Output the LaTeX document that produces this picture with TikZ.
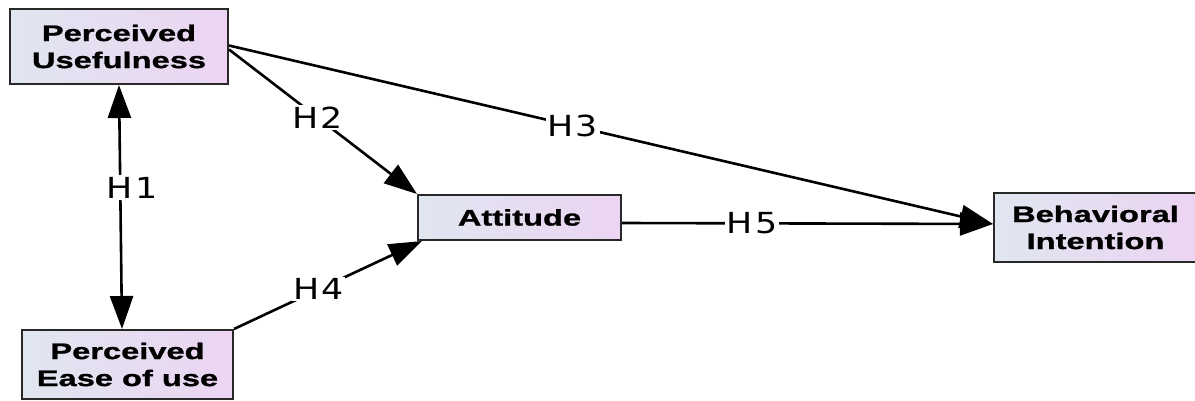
\documentclass[tikz,border=0pt]{standalone}
\usepackage{fontspec}
\usetikzlibrary{arrows.meta}
\newfontfamily\boxfont[FakeStretch=1.45,BoldFeatures={FakeBold=1.2}]{Liberation Sans}
\newfontfamily\hypfont[FakeStretch=1.2,LetterSpace=8]{DejaVu Sans}
\definecolor{boxleft}{RGB}{224,230,240}
\definecolor{boxright}{RGB}{236,212,242}
\definecolor{boxline}{RGB}{40,40,40}
\tikzset{
  construct/.style={draw=boxline, line width=2pt, left color=boxleft, right color=boxright,
    align=center, inner sep=0pt, font=\boxfont\bfseries\fontsize{22.5}{27}\selectfont},
  path/.style={line width=2.6pt, -{Triangle[length=33pt,width=23pt]}},
  hyp/.style={fill=white, inner sep=1.5pt, font=\hypfont\fontsize{29}{29}\selectfont}
}
\begin{document}
\begin{tikzpicture}[x=1pt,y=-1pt]
\useasboundingbox[fill=white] (0,0) rectangle (1195,401);
\node[construct, minimum width=218pt, minimum height=75pt] (PU) at (119,46.5) {Perceived\\Usefulness};
\node[construct, minimum width=211pt, minimum height=69pt] (PEU) at (127.5,364.5) {Perceived\\Ease of use};
\node[construct, minimum width=203pt, minimum height=45pt] (Att) at (519.5,217.5) {Attitude};
\node[construct, minimum width=203pt, minimum height=69pt] (BI) at (1095.5,227.5) {Behavioral\\Intention};
\draw[path, {Triangle[length=33pt,width=23pt]}-{Triangle[length=33pt,width=23pt]}] (PU.south) -- node[hyp, pos=0.42, xshift=12pt] {H1} ([xshift=-5.5pt]PEU.north);
\draw[path] ([yshift=-3pt]PU.east) -- node[hyp, pos=0.47] {H2} (Att.north west);
\draw[path] ([yshift=1pt]PU.east) -- node[hyp, pos=0.45] {H3} ([yshift=3.5pt]BI.west);
\draw[path] (PEU.north east) -- node[hyp, pos=0.45] {H4} ([xshift=5pt]Att.south west);
\draw[path] ([yshift=-5.5pt]Att.east) -- node[hyp, pos=0.35] {H5} ([yshift=3.5pt]BI.west);
\end{tikzpicture}
\end{document}
